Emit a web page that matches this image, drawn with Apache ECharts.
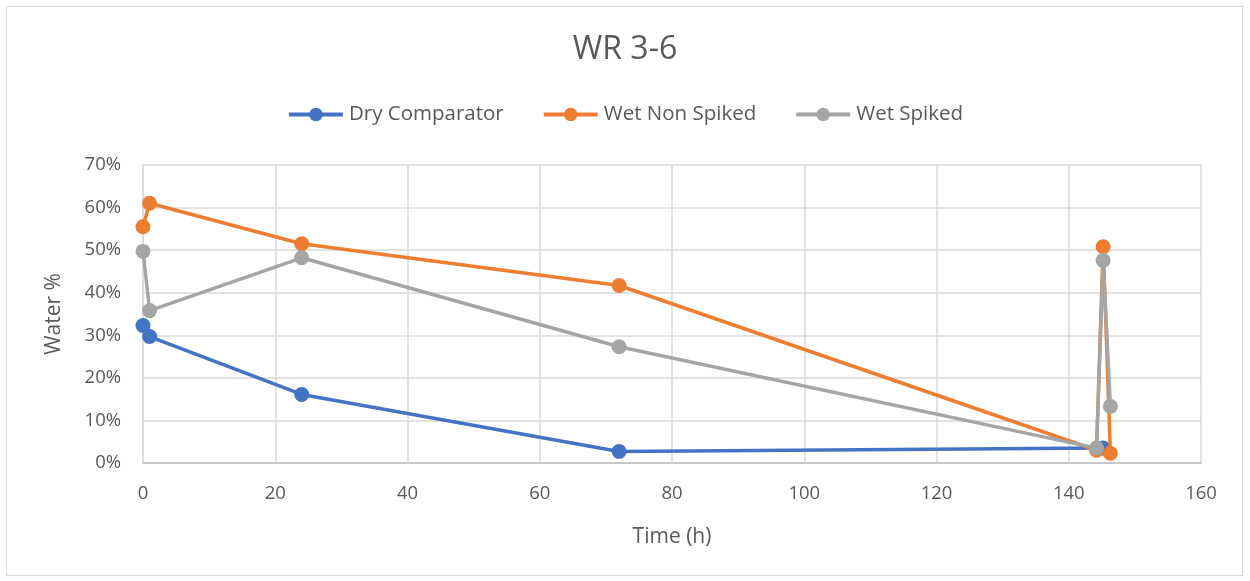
<!DOCTYPE html>
<html>
<head>
<meta charset="utf-8">
<script src="https://cdn.jsdelivr.net/npm/echarts@6/dist/echarts.min.js"></script>
<style>
  html, body { margin: 0; padding: 0; background: #fff; }
  #frame { position: absolute; left: 6px; top: 6px; width: 1237px; height: 570px; border: 1px solid #d9d9d9; box-sizing: border-box; }
  #chart { width: 1250px; height: 581px; }
</style>
</head>
<body>
<div id="frame"></div>
<div id="chart"></div>
<script>
// Sampling times (h) and water content (%) per treatment
const dryTime = [0, 1, 24, 72, 145.2];
const dryWater = [32.3, 29.7, 16.1, 2.7, 3.5];

const wetNonSpikedTime = [0, 1, 24, 72, 144.2, 145.2, 146.3];
const wetNonSpikedWater = [55.5, 61.0, 51.5, 41.7, 3.0, 50.8, 2.3];

const wetSpikedTime = [0, 1, 24, 72, 144.2, 145.2, 146.3];
const wetSpikedWater = [49.7, 35.8, 48.2, 27.3, 3.5, 47.6, 13.3];

const seriesNames = ['Dry Comparator', 'Wet Non Spiked', 'Wet Spiked'];
const seriesColors = ['#4472c4', '#ed7d31', '#a5a5a5'];

const font = 'Open Sans, Noto Sans, sans-serif';
const textColor = '#595959';

function pairs(xs, ys) { return xs.map((x, i) => [x, ys[i]]); }

const chart = echarts.init(document.getElementById('chart'), null, { renderer: 'canvas' });

const seriesData = [
  pairs(dryTime, dryWater),
  pairs(wetNonSpikedTime, wetNonSpikedWater),
  pairs(wetSpikedTime, wetSpikedWater)
];

chart.setOption({
  animation: false,
  title: {
    text: 'WR 3-6',
    left: 'center',
    top: 29,
    textStyle: { fontFamily: font, fontSize: 32, fontWeight: 'normal', color: textColor }
  },
  legend: {
    top: 99,
    left: 'center',
    itemGap: 38,
    itemWidth: 54,
    itemHeight: 17,
    textStyle: { fontFamily: font, fontSize: 20.5, color: textColor, padding: [0, 0, 0, 1] },
    lineStyle: { width: 4 },
    data: seriesNames
  },
  grid: { left: 143, right: 49, top: 165, bottom: 118, containLabel: false },
  xAxis: {
    type: 'value',
    min: 0, max: 160, interval: 20,
    name: 'Time (h)',
    nameLocation: 'middle',
    nameGap: 64,
    nameTextStyle: { fontFamily: font, fontSize: 21, color: textColor },
    axisLine: { show: true, lineStyle: { color: '#bfbfbf', width: 1.5 } },
    axisTick: { show: false },
    axisLabel: { fontFamily: font, fontSize: 18.5, color: textColor, margin: 21 },
    splitLine: { show: true, lineStyle: { color: '#d9d9d9', width: 1.5 } }
  },
  yAxis: {
    type: 'value',
    min: 0, max: 70, interval: 10,
    name: 'Water %',
    nameLocation: 'middle',
    nameGap: 78,
    nameRotate: 90,
    nameTextStyle: { fontFamily: font, fontSize: 21, color: textColor },
    axisLine: { show: true, lineStyle: { color: '#d9d9d9', width: 1.5 } },
    axisTick: { show: false },
    axisLabel: { fontFamily: font, fontSize: 18.5, color: textColor, margin: 22, formatter: '{value}%' },
    splitLine: { show: true, lineStyle: { color: '#d9d9d9', width: 1.5 } }
  },
  series: seriesNames.map((name, i) => ({
    name: name,
    type: 'line',
    data: seriesData[i],
    color: seriesColors[i],
    symbol: 'circle',
    symbolSize: 15,
    lineStyle: { width: 3.5 },
    z: 3 + i
  }))
});
</script>
</body>
</html>
